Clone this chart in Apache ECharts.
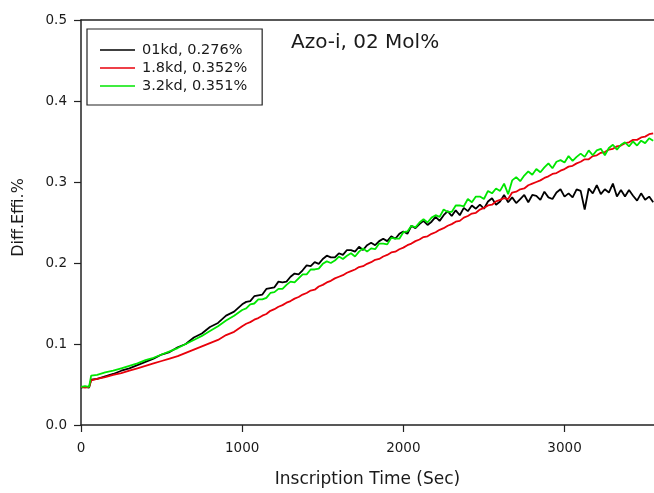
<!DOCTYPE html>
<html>
<head>
<meta charset="utf-8">
<script src="https://cdn.jsdelivr.net/npm/echarts@6/dist/echarts.min.js"></script>
<style>
  html, body { margin: 0; padding: 0; background: #fff; }
  #main { width: 654px; height: 493px; }
</style>
</head>
<body>
<div id="main"></div>
<script>
// inscription time (sec)
var times = [0, 25, 50, 60, 63, 100, 150, 200, 250, 300, 350, 400, 450, 500, 550, 600, 650, 700, 750, 800, 850, 900, 950, 1000,
    1025, 1050, 1075, 1100, 1125, 1150, 1175, 1200, 1225, 1250, 1275, 1300, 1325, 1350, 1375, 1400,
    1425, 1450, 1475, 1500, 1525, 1550, 1575, 1600, 1625, 1650, 1675, 1700, 1725, 1750, 1775, 1800,
    1825, 1850, 1875, 1900, 1925, 1950, 1975, 2000, 2025, 2050, 2075, 2100, 2125, 2150, 2175, 2200,
    2225, 2250, 2275, 2300, 2325, 2350, 2375, 2400, 2425, 2450, 2475, 2500, 2525, 2550, 2575, 2600,
    2625, 2650, 2675, 2700, 2725, 2750, 2775, 2800, 2825, 2850, 2875, 2900, 2925, 2950, 2975, 3000,
    3025, 3050, 3075, 3100, 3125, 3150, 3175, 3200, 3225, 3250, 3275, 3300, 3325, 3350, 3375, 3400,
    3425, 3450, 3475, 3500, 3525, 3550];

// 01kd, 0.276%
var black = [0.046, 0.047, 0.046, 0.047, 0.056, 0.057, 0.060, 0.063, 0.067, 0.070, 0.074, 0.078, 0.082, 0.087, 0.090, 0.096, 0.100, 0.108, 0.113, 0.121, 0.126, 0.135, 0.140, 0.149,
    0.152, 0.153, 0.159, 0.160, 0.161, 0.168, 0.169, 0.170, 0.177, 0.176, 0.177, 0.183, 0.187, 0.186, 0.191, 0.197,
    0.196, 0.201, 0.199, 0.205, 0.209, 0.207, 0.207, 0.212, 0.210, 0.216, 0.216, 0.214, 0.220, 0.216, 0.222, 0.225,
    0.222, 0.227, 0.230, 0.227, 0.233, 0.230, 0.236, 0.239, 0.236, 0.246, 0.243, 0.248, 0.252, 0.247, 0.251, 0.257,
    0.252, 0.259, 0.264, 0.258, 0.265, 0.259, 0.268, 0.264, 0.271, 0.267, 0.272, 0.267, 0.276, 0.280, 0.272, 0.276,
    0.284, 0.275, 0.281, 0.274, 0.279, 0.284, 0.275, 0.284, 0.283, 0.278, 0.288, 0.281, 0.279, 0.287, 0.291, 0.282,
    0.286, 0.281, 0.291, 0.289, 0.266, 0.292, 0.286, 0.296, 0.285, 0.291, 0.287, 0.298, 0.282, 0.290, 0.282, 0.290,
    0.283, 0.277, 0.286, 0.278, 0.282, 0.275];

// 1.8kd, 0.352%
var red = [0.047, 0.046, 0.047, 0.046, 0.055, 0.057, 0.059, 0.062, 0.064, 0.067, 0.070, 0.073, 0.076, 0.079, 0.082, 0.085, 0.089, 0.093, 0.097, 0.101, 0.105, 0.111, 0.115, 0.122,
    0.125, 0.127, 0.130, 0.132, 0.135, 0.137, 0.141, 0.143, 0.146, 0.148, 0.151, 0.153, 0.156, 0.158, 0.161, 0.163,
    0.166, 0.167, 0.171, 0.173, 0.176, 0.178, 0.181, 0.183, 0.185, 0.188, 0.190, 0.192, 0.195, 0.196, 0.199, 0.201,
    0.204, 0.205, 0.208, 0.210, 0.213, 0.214, 0.217, 0.219, 0.222, 0.224, 0.227, 0.229, 0.232, 0.233, 0.236, 0.238,
    0.241, 0.243, 0.246, 0.248, 0.251, 0.252, 0.256, 0.258, 0.261, 0.262, 0.266, 0.268, 0.271, 0.272, 0.276, 0.278,
    0.280, 0.279, 0.287, 0.288, 0.291, 0.292, 0.296, 0.298, 0.300, 0.302, 0.305, 0.307, 0.310, 0.311, 0.314, 0.316,
    0.319, 0.320, 0.323, 0.325, 0.328, 0.328, 0.332, 0.333, 0.336, 0.337, 0.340, 0.341, 0.344, 0.345, 0.348, 0.349,
    0.352, 0.352, 0.355, 0.356, 0.359, 0.360];

// 3.2kd, 0.351%
var green = [0.047, 0.048, 0.047, 0.048, 0.061, 0.062, 0.065, 0.067, 0.070, 0.073, 0.076, 0.080, 0.083, 0.087, 0.091, 0.095, 0.100, 0.105, 0.110, 0.116, 0.122, 0.129, 0.135, 0.142,
    0.144, 0.149, 0.150, 0.155, 0.155, 0.157, 0.163, 0.164, 0.168, 0.168, 0.173, 0.177, 0.176, 0.181, 0.186, 0.186,
    0.192, 0.192, 0.193, 0.199, 0.202, 0.200, 0.203, 0.208, 0.205, 0.209, 0.212, 0.208, 0.214, 0.218, 0.214, 0.218,
    0.217, 0.224, 0.224, 0.223, 0.231, 0.230, 0.230, 0.238, 0.239, 0.246, 0.244, 0.250, 0.254, 0.250, 0.256, 0.259,
    0.257, 0.266, 0.263, 0.263, 0.271, 0.271, 0.270, 0.279, 0.275, 0.282, 0.282, 0.279, 0.289, 0.286, 0.292, 0.289,
    0.298, 0.285, 0.302, 0.306, 0.301, 0.308, 0.313, 0.309, 0.316, 0.312, 0.318, 0.323, 0.317, 0.325, 0.327, 0.324,
    0.332, 0.326, 0.331, 0.335, 0.331, 0.339, 0.333, 0.339, 0.341, 0.333, 0.342, 0.346, 0.340, 0.346, 0.349, 0.344,
    0.350, 0.345, 0.351, 0.348, 0.354, 0.351];

var names = ['01kd, 0.276%', '1.8kd, 0.352%', '3.2kd, 0.351%'];
var colors = ['#000000', '#e8000b', '#00e600'];

var FONT = '"DejaVu Sans", sans-serif';

function pairs(vals) {
    return times.map(function (t, i) { return [t, vals[i]]; });
}

var mychart = echarts.init(document.getElementById('main'));

var option = {
    animation: false,
    title: {
        text: 'Azo-i, 02 Mol%',
        left: 291,
        top: 33,
        padding: 0,
        textStyle: { fontFamily: FONT, fontSize: 20, fontWeight: 'normal', color: '#1a1a1a' }
    },
    legend: {
        orient: 'vertical',
        left: 87,
        top: 29,
        padding: [12, 15, 10, 13],
        borderColor: '#222',
        borderWidth: 1.2,
        icon: 'rect',
        itemWidth: 35,
        itemHeight: 1.6,
        itemGap: 0,
        textStyle: { fontFamily: FONT, fontSize: 14.5, lineHeight: 18, color: '#1a1a1a', padding: [0, 0, 0, 2] },
        data: names
    },
    grid: { left: 81, right: 0, top: 20, bottom: 68 },
    xAxis: [{
        type: 'value',
        min: 0,
        max: 3555,
        interval: 1000,
        name: 'Inscription Time (Sec)',
        nameLocation: 'middle',
        nameGap: 46,
        nameTextStyle: { fontFamily: FONT, fontSize: 17, color: '#1a1a1a' },
        axisLine: { lineStyle: { color: '#222', width: 1.5 } },
        axisTick: { length: 7, lineStyle: { color: '#222', width: 1.2 } },
        axisLabel: {
            fontFamily: FONT, fontSize: 13.5, color: '#1a1a1a', margin: 16, showMaxLabel: false,
            formatter: function (v) { return String(v); }
        },
        splitLine: { show: false }
    }, {
        type: 'value',
        position: 'top',
        min: 0,
        max: 3555,
        axisLine: { show: true, lineStyle: { color: '#222', width: 1.5 } },
        axisTick: { show: false },
        axisLabel: { show: false },
        splitLine: { show: false }
    }],
    yAxis: {
        type: 'value',
        min: 0,
        max: 0.5,
        interval: 0.1,
        name: 'Diff.Effi.%',
        nameLocation: 'middle',
        nameGap: 54,
        nameTextStyle: { fontFamily: FONT, fontSize: 16, color: '#1a1a1a', padding: [0, 0, 0, 10] },
        axisLine: { show: true, lineStyle: { color: '#222', width: 1.5 } },
        axisTick: { show: true, length: 7, lineStyle: { color: '#222', width: 1.2 } },
        axisLabel: {
            fontFamily: FONT, fontSize: 13.5, color: '#1a1a1a', margin: 14,
            formatter: function (v) { return v.toFixed(1); }
        },
        splitLine: { show: false }
    },
    series: [{
        name: names[0],
        type: 'line',
        data: pairs(black),
        symbol: 'none',
        color: colors[0],
        lineStyle: { width: 1.8 }
    }, {
        name: names[1],
        type: 'line',
        data: pairs(red),
        symbol: 'none',
        color: colors[1],
        lineStyle: { width: 1.8 }
    }, {
        name: names[2],
        type: 'line',
        data: pairs(green),
        symbol: 'none',
        color: colors[2],
        lineStyle: { width: 1.8 }
    }]
};

mychart.setOption(option);
</script>
</body>
</html>
